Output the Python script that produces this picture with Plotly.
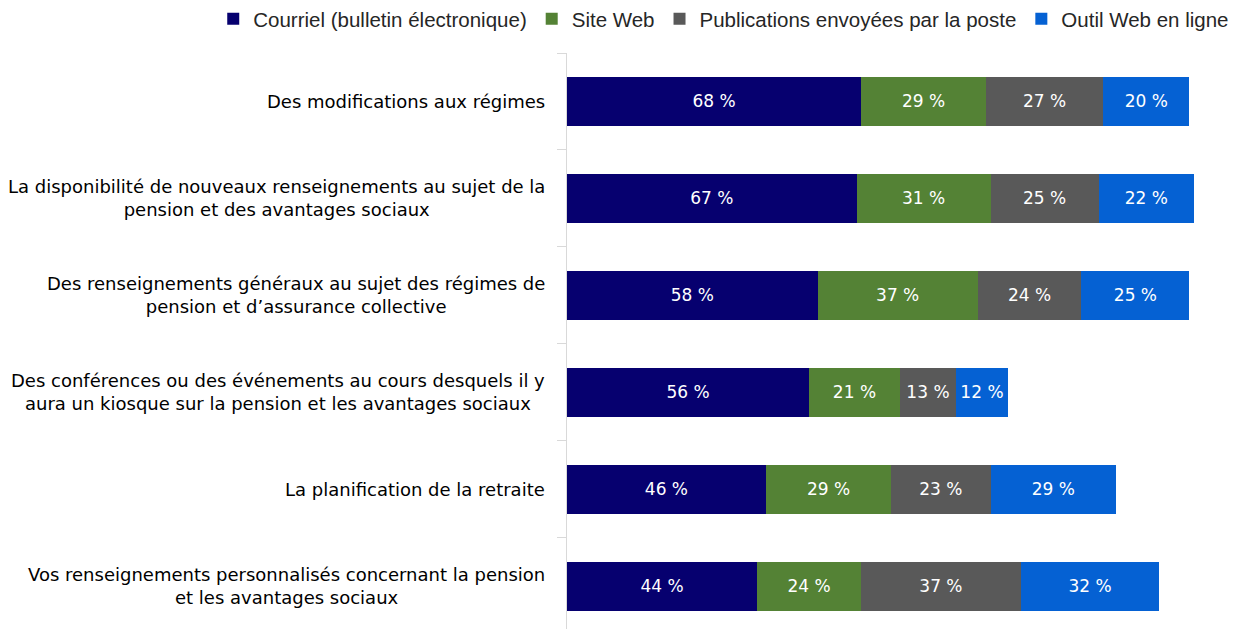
import plotly.graph_objects as go

categories = [
    "Des modifications aux régimes",
    "La disponibilité de nouveaux renseignements au sujet de la<br>pension et des avantages sociaux",
    "Des renseignements généraux au sujet des régimes de<br>pension et d\u2019assurance collective",
    "Des conférences ou des événements au cours desquels il y<br>aura un kiosque sur la pension et les avantages sociaux",
    "La planification de la retraite",
    "Vos renseignements personnalisés concernant la pension<br>et les avantages sociaux",
]

courriel = [68, 67, 58, 56, 46, 44]
site_web = [29, 31, 37, 21, 29, 24]
poste = [27, 25, 24, 13, 23, 37]
outil = [20, 22, 25, 12, 29, 32]

series_names = [
    "Courriel (bulletin électronique)",
    "Site Web",
    "Publications envoyées par la poste",
    "Outil Web en ligne",
]
colors = ["#06006f", "#548235", "#595959", "#0561d3"]

fig = go.Figure()
for name, vals, col in zip(series_names, [courriel, site_web, poste, outil], colors):
    fig.add_trace(go.Bar(
        y=categories, x=vals, name=name, orientation="h",
        marker=dict(color=col, line=dict(width=0)),
        text=[f"{v} %" for v in vals],
        textposition="inside", insidetextanchor="middle", textangle=0,
        textfont=dict(color="white", size=17, family="DejaVu Sans"),
        hoverinfo="skip",
    ))

# category labels as annotations so that the two-line labels are centred
for cat in categories:
    fig.add_annotation(
        x=0, xref="paper", y=cat, yref="y", text=cat,
        xanchor="right", xshift=-20, align="center", showarrow=False,
        font=dict(family="DejaVu Sans", size=18, color="#000000"),
    )

fig.update_layout(
    barmode="stack",
    bargap=0.5,
    width=1229, height=621,
    margin=dict(l=559, r=0, t=45, b=0, autoexpand=False),
    plot_bgcolor="white", paper_bgcolor="white",
    font=dict(family="Liberation Sans", size=16, color="#000000"),
    uniformtext=dict(minsize=14, mode="show"),
    legend=dict(
        orientation="h", x=-0.528, xanchor="left",
        y=1.059, yanchor="middle",
        font=dict(family="Liberation Sans", size=20.5, color="#262626"),
        traceorder="normal",
    ),
    xaxis=dict(range=[0, 155], visible=False),
    yaxis=dict(
        range=[5.44, -0.5],
        showline=True, linecolor="#d9d9d9", linewidth=1,
        ticks="outside", tickson="boundaries", ticklen=9, tickcolor="#d9d9d9",
        showticklabels=False,
        showgrid=False,
    ),
)

fig.write_html("out.html")
